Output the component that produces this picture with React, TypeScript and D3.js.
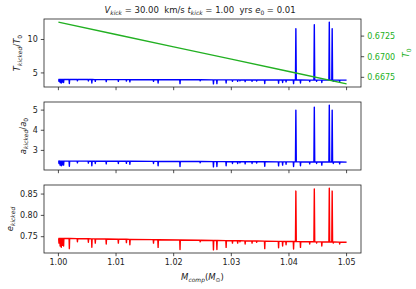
import React from 'react';
import * as d3 from 'd3';

// baseline of each quantity (start and end of the mass range)
const baseMass = [1.0, 1.05];
const baseT = [4.02, 3.92];
const baseA = [2.47, 2.42];
const baseE = [0.746, 0.737];

// narrow downward dips
const dipMass = [
  1.0001, 1.0003, 1.0005, 1.0007, 1.0009, 1.0019, 1.0033, 1.0052, 1.0058, 1.0064,
  1.0083, 1.0104, 1.0118, 1.0124, 1.0165, 1.0173, 1.0211, 1.0246, 1.0269, 1.0275,
  1.0291, 1.0302, 1.0311, 1.0315, 1.0324, 1.0336, 1.0344, 1.0358, 1.0382, 1.0389,
  1.0395, 1.0408, 1.042, 1.0436, 1.0448, 1.0457, 1.0477, 1.0488,
];
const dipE = [
  0.735, 0.728, 0.725, 0.73, 0.728, 0.722, 0.738, 0.737, 0.725, 0.735,
  0.733, 0.735, 0.736, 0.731, 0.735, 0.725, 0.72, 0.738, 0.719, 0.72,
  0.725, 0.735, 0.735, 0.738, 0.733, 0.735, 0.737, 0.722, 0.724, 0.728,
  0.731, 0.721, 0.725, 0.733, 0.735, 0.728, 0.735, 0.733,
];
const dipA = [
  2.35, 2.27, 2.24, 2.29, 2.27, 2.21, 2.38, 2.37, 2.24, 2.35,
  2.33, 2.35, 2.36, 2.31, 2.35, 2.24, 2.2, 2.38, 2.18, 2.2,
  2.24, 2.35, 2.35, 2.38, 2.33, 2.35, 2.37, 2.21, 2.23, 2.27,
  2.31, 2.2, 2.24, 2.33, 2.35, 2.27, 2.35, 2.33,
];
const dipT = [
  3.75, 3.58, 3.5, 3.62, 3.58, 3.43, 3.82, 3.8, 3.5, 3.75,
  3.7, 3.75, 3.77, 3.66, 3.75, 3.5, 3.4, 3.82, 3.36, 3.4,
  3.5, 3.75, 3.75, 3.82, 3.7, 3.75, 3.8, 3.43, 3.47, 3.58,
  3.66, 3.41, 3.5, 3.7, 3.75, 3.58, 3.75, 3.7,
];

// tall spikes near the end
const spikeMass = [1.0412, 1.0444, 1.047, 1.0475];
const spikeT = [11.6, 12.2, 12.6, 11.6];
const spikeA = [5.0, 5.15, 5.25, 5.0];
const spikeE = [0.857, 0.862, 0.864, 0.857];

// unkicked period (right axis of the top panel)
const t0Mass = [1.0, 1.01, 1.02, 1.03, 1.04, 1.05];
const t0Vals = [0.6742, 0.6727, 0.6712, 0.6697, 0.6682, 0.6667];

const xTicks = [1.0, 1.01, 1.02, 1.03, 1.04, 1.05];

const W = 416;
const H = 289;
const left = 44;
const right = 361;
const FONT = 'DejaVu Sans';
const TICK = 3.2;

const x = d3.scaleLinear().domain([0.9975, 1.0525]).range([left, right]);

function buildSeries(base: number[], dv: number[], sv: number[]) {
  const b = d3.scaleLinear().domain(baseMass).range(base);
  const pts: [number, number][] = [];
  pts.push([baseMass[0], base[0]], [baseMass[1], base[1]]);
  dipMass.forEach((m, i) => {
    const w = 0.00005;
    pts.push([m - w, b(m - w)], [m, dv[i]], [m + w, b(m + w)]);
  });
  spikeMass.forEach((m, i) => {
    const w = 0.00007;
    pts.push([m - w, b(m - w)], [m, sv[i]], [m + w, b(m + w)]);
  });
  pts.sort((p, q) => p[0] - q[0]);
  return pts;
}

function padDomain(vals: number[]): [number, number] {
  const [lo, hi] = d3.extent(vals) as [number, number];
  const m = (hi - lo) * 0.05;
  return [lo - m, hi + m];
}

// mathtext-like piece: italic symbol, lowered small subscript, then text back on the baseline
function Sub({
  main,
  sub,
  after,
  italicSub = true,
  fs,
}: {
  main: string;
  sub: string;
  after?: string;
  italicSub?: boolean;
  fs: number;
}) {
  const d = fs * 0.25;
  return (
    <>
      <tspan fontStyle="italic">{main}</tspan>
      <tspan fontStyle={italicSub ? 'italic' : 'normal'} fontSize={fs * 0.7} dy={d}>
        {sub}
      </tspan>
      {after && <tspan dy={-d}>{after}</tspan>}
    </>
  );
}

type PanelProps = {
  top: number;
  bottom: number;
  data: [number, number][];
  color: string;
  ticks: number[];
  fmt: (v: number) => string;
  showX: boolean;
};

function Panel({ top, bottom, data, color, ticks, fmt, showX }: PanelProps) {
  const y = d3.scaleLinear().domain(padDomain(data.map((d) => d[1]))).range([bottom, top]);
  const line = d3
    .line<[number, number]>()
    .x((d) => x(d[0]))
    .y((d) => y(d[1]));
  return (
    <g>
      <clipPath id={`clip${top}`}>
        <rect x={left} y={top} width={right - left} height={bottom - top} />
      </clipPath>
      <path
        d={line(data) || ''}
        fill="none"
        stroke={color}
        strokeWidth={1.4}
        strokeLinejoin="round"
        clipPath={`url(#clip${top})`}
      />
      <rect x={left} y={top} width={right - left} height={bottom - top} fill="none" stroke="#222" strokeWidth={0.8} />
      {ticks.map((t) => (
        <g key={t}>
          <line x1={left - TICK} x2={left} y1={y(t)} y2={y(t)} stroke="#222" strokeWidth={0.8} />
          <text x={left - TICK - 3} y={y(t)} dy="0.35em" textAnchor="end" fontSize={8} fill="#222">
            {fmt(t)}
          </text>
        </g>
      ))}
      {xTicks.map((t) => (
        <g key={t}>
          <line x1={x(t)} x2={x(t)} y1={bottom} y2={bottom + TICK} stroke="#222" strokeWidth={0.8} />
          {showX && (
            <text x={x(t)} y={bottom + TICK + 3} dy="0.75em" textAnchor="middle" fontSize={8} fill="#222">
              {d3.format('.2f')(t)}
            </text>
          )}
        </g>
      ))}
    </g>
  );
}

export default function App() {
  const p1 = { top: 19, bottom: 87 };
  const p2 = { top: 102, bottom: 170 };
  const p3 = { top: 185, bottom: 253 };

  const serT = buildSeries(baseT, dipT, spikeT);
  const serA = buildSeries(baseA, dipA, spikeA);
  const serE = buildSeries(baseE, dipE, spikeE);

  const yT0 = d3.scaleLinear().domain(padDomain(t0Vals)).range([p1.bottom, p1.top]);
  const t0Line = d3
    .line<number>()
    .x((_, i) => x(t0Mass[i]))
    .y((d) => yT0(d));
  const green = '#22b022';
  const fs = 8.5;

  return (
    <svg
      width={W}
      height={H}
      style={{ position: 'absolute', left: 0, top: 0, background: '#fff', whiteSpace: 'pre' }}
      fontFamily={FONT}
    >
      <rect width={W} height={H} fill="#fff" />
      <text x={200} y={13} textAnchor="middle" fontSize={fs} fill="#222">
        <Sub main="V" sub="kick" after={' = 30.00\u00a0\u00a0km/s '} fs={fs} />
        <Sub main="t" sub="kick" after={' = 1.00\u00a0\u00a0yrs '} fs={fs} />
        <Sub main="e" sub="0" after=" = 0.01" italicSub={false} fs={fs} />
      </text>

      <Panel {...p1} data={serT} color="#0000ff" ticks={[5, 10]} fmt={d3.format('d')} showX={false} />
      <path d={t0Line(t0Vals) || ''} fill="none" stroke={green} strokeWidth={1.4} />
      {[0.6675, 0.67, 0.6725].map((t) => (
        <g key={t}>
          <line x1={right} x2={right + TICK} y1={yT0(t)} y2={yT0(t)} stroke="#222" strokeWidth={0.8} />
          <text x={right + TICK + 3} y={yT0(t)} dy="0.35em" fontSize={8} fill={green}>
            {d3.format('.4f')(t)}
          </text>
        </g>
      ))}
      <text transform={`translate(409,${(p1.top + p1.bottom) / 2}) rotate(-90)`} textAnchor="middle" fontSize={fs} fill={green}>
        <Sub main="T" sub="0" italicSub={false} fs={fs} />
      </text>

      <Panel {...p2} data={serA} color="#0000ff" ticks={[3, 4, 5]} fmt={d3.format('d')} showX={false} />
      <Panel {...p3} data={serE} color="#ff0000" ticks={[0.75, 0.8, 0.85]} fmt={d3.format('.2f')} showX={true} />

      <text transform={`translate(20,${(p1.top + p1.bottom) / 2}) rotate(-90)`} textAnchor="middle" fontSize={fs} fill="#222">
        <Sub main="T" sub="kicked" after="/" fs={fs} />
        <Sub main="T" sub="0" italicSub={false} fs={fs} />
      </text>
      <text transform={`translate(26,${(p2.top + p2.bottom) / 2}) rotate(-90)`} textAnchor="middle" fontSize={fs} fill="#222">
        <Sub main="a" sub="kicked" after="/" fs={fs} />
        <Sub main="a" sub="0" italicSub={false} fs={fs} />
      </text>
      <text transform={`translate(13,${(p3.top + p3.bottom) / 2}) rotate(-90)`} textAnchor="middle" fontSize={fs} fill="#222">
        <Sub main="e" sub="kicked" fs={fs} />
      </text>
      <text x={(left + right) / 2} y={280} textAnchor="middle" fontSize={fs} fill="#222">
        <Sub main="M" sub="comp" after="(" fs={fs} />
        <Sub main="M" sub="⊙" after=")" italicSub={false} fs={fs} />
      </text>
    </svg>
  );
}
